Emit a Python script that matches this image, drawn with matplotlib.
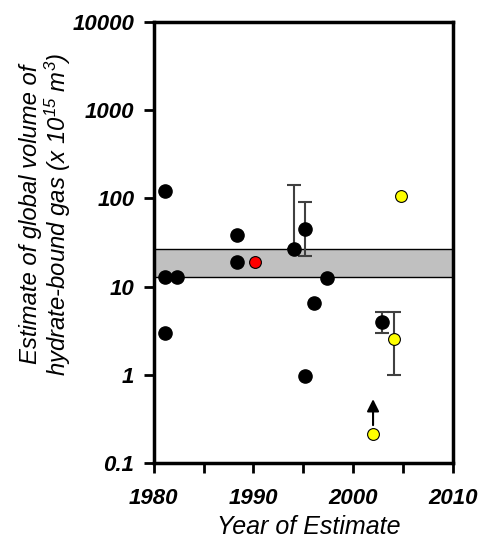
import matplotlib.pyplot as plt
from matplotlib.ticker import FixedLocator, FixedFormatter, NullLocator

plt.rcParams['font.family'] = ['Liberation Sans', 'DejaVu Sans']
plt.rcParams['mathtext.default'] = 'regular'

# black estimates
black_year = [1981.1, 1981.1, 1982.3, 1981.1, 1988.3, 1988.3, 1994.1, 1995.2, 1997.4, 1996.1, 1995.2, 2002.9]
black_val = [121, 12.8, 12.8, 3.0, 39, 18.8, 26.5, 44.6, 12.5, 6.6, 0.97, 4.0]
# red estimate
red_year = [1990.2]
red_val = [18.8]
# yellow estimates
yellow_year = [2004.8, 2004.1, 2002.0]
yellow_val = [106, 2.55, 0.215]

# error bars (year, value, low, high)
err_year = [1994.1, 1995.2, 2002.9, 2004.1]
err_val = [26.5, 44.6, 4.0, 2.55]
err_low = [26.5, 22.2, 3.0, 1.0]
err_high = [142, 90, 5.1, 5.1]

# consensus band
band_low, band_high = 12.7, 26.7

# lower bound arrow
arrow_year = 2002.0
arrow_from, arrow_to = 0.25, 0.57

fig = plt.figure(figsize=(4.9, 5.39), dpi=100)
ax = fig.add_axes([0.314, 0.141, 0.61, 0.818])

ax.axhspan(band_low, band_high, facecolor='#c0c0c0', edgecolor='black', linewidth=1.0, zorder=1)

yerr = [[v - lo for v, lo in zip(err_val, err_low)], [hi - v for v, hi in zip(err_val, err_high)]]
ax.errorbar(err_year, err_val, yerr=yerr, fmt='none', ecolor='#404040', elinewidth=1.5,
            capsize=5, capthick=1.5, zorder=2)

ax.plot(black_year, black_val, 'o', color='black', markersize=9.5, zorder=3)
ax.plot(red_year, red_val, 'o', color='red', markeredgecolor='black', markeredgewidth=0.8,
        markersize=8.5, zorder=3)
ax.plot(yellow_year, yellow_val, 'o', color='yellow', markeredgecolor='black', markeredgewidth=0.8,
        markersize=8.5, zorder=3)

ax.annotate('', xy=(arrow_year, arrow_to), xytext=(arrow_year, arrow_from),
            arrowprops=dict(arrowstyle='-|>', color='black', lw=1.5, mutation_scale=18), zorder=4)

ax.set_yscale('log')
ax.set_xlim(1980, 2010)
ax.set_ylim(0.1, 10000)

ax.yaxis.set_major_locator(FixedLocator([0.1, 1, 10, 100, 1000, 10000]))
ax.yaxis.set_major_formatter(FixedFormatter(['0.1', '1', '10', '100', '1000', '10000']))
ax.yaxis.set_minor_locator(NullLocator())
ax.xaxis.set_major_locator(FixedLocator([1980, 1990, 2000, 2010]))
ax.xaxis.set_minor_locator(FixedLocator([1985, 1995, 2005]))

ax.tick_params(which='both', direction='out', length=7, width=2)
ax.tick_params(axis='y', pad=7)
ax.tick_params(axis='x', pad=11)
for lab in ax.get_xticklabels() + ax.get_yticklabels():
    lab.set_fontsize(16)
    lab.set_fontweight('bold')
    lab.set_fontstyle('italic')

for s in ax.spines.values():
    s.set_linewidth(2.5)

fig.text(309 / 490, 1 - 527 / 539, 'Year of Estimate', fontsize=18, fontstyle='italic',
         ha='center', va='center')
fig.text(46 / 490, 1 - 214 / 539,
         'Estimate of global volume of\nhydrate-bound gas (x 10$^{15}$ m$^3$)',
         fontsize=17.2, fontstyle='italic', rotation=90, ha='center', va='center',
         multialignment='center', linespacing=1.0)

plt.savefig('out.png', dpi=100)
